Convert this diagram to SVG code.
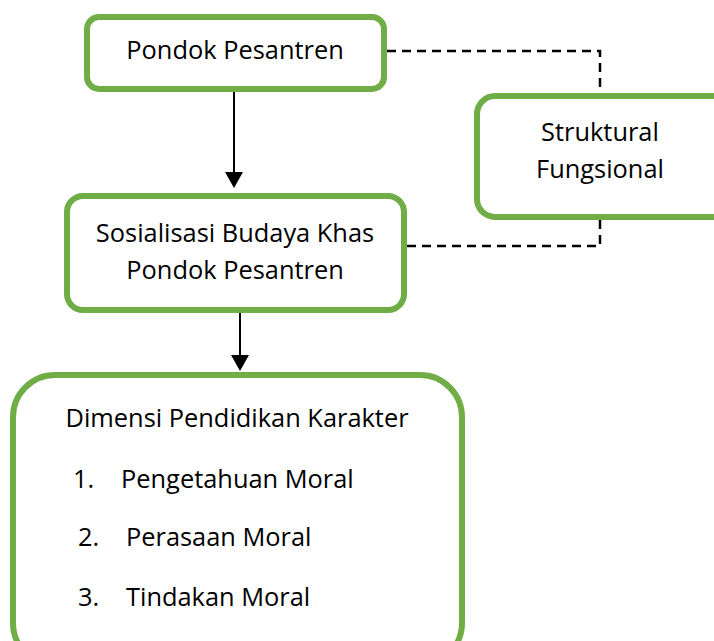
<svg xmlns="http://www.w3.org/2000/svg" width="714" height="641" viewBox="0 0 714 641">
<defs>
<style>
.box{fill:#fff;stroke:#70AD47;stroke-width:6}
.t{font-family:"Open Sans","Liberation Sans",sans-serif;font-size:25.4px;fill:#000}
.c{text-anchor:middle}
.ln{stroke:#000;stroke-width:2;fill:none}
.dash{stroke:#000;stroke-width:2.5;fill:none;stroke-dasharray:9 6}
</style>
</defs>
<g id="connectors">
<line class="ln" x1="234" y1="92" x2="234" y2="172"/>
<path d="M225,172 L243,172 L234,188 Z" fill="#000"/>
<line class="ln" x1="240" y1="313" x2="240" y2="355"/>
<path d="M231,355 L249,355 L240,371 Z" fill="#000"/>
<path class="dash" d="M387,51 H600 V93"/>
<path class="dash" d="M600,220 V246 H407"/>
</g>
<g id="node-pondok">
<rect class="box" x="87" y="17" width="297" height="72" rx="12"/>
<text class="t c" x="235" y="59">Pondok Pesantren</text>
</g>
<g id="node-struktural">
<rect class="box" x="477" y="96" width="260" height="121" rx="18"/>
<text class="t c" x="600" y="141">Struktural</text>
<text class="t c" x="600" y="178">Fungsional</text>
</g>
<g id="node-sosialisasi">
<rect class="box" x="67" y="196" width="337" height="114" rx="16"/>
<text class="t c" x="235" y="242">Sosialisasi Budaya Khas</text>
<text class="t c" x="235" y="279">Pondok Pesantren</text>
</g>
<g id="node-dimensi">
<rect class="box" x="13" y="375" width="449" height="290" rx="42"/>
<text class="t c" x="237" y="427">Dimensi Pendidikan Karakter</text>
<text class="t" x="73" y="488">1.</text>
<text class="t" x="121" y="488">Pengetahuan Moral</text>
<text class="t" x="78" y="546">2.</text>
<text class="t" x="126" y="546">Perasaan Moral</text>
<text class="t" x="78" y="606">3.</text>
<text class="t" x="126" y="606">Tindakan Moral</text>
</g>
</svg>
